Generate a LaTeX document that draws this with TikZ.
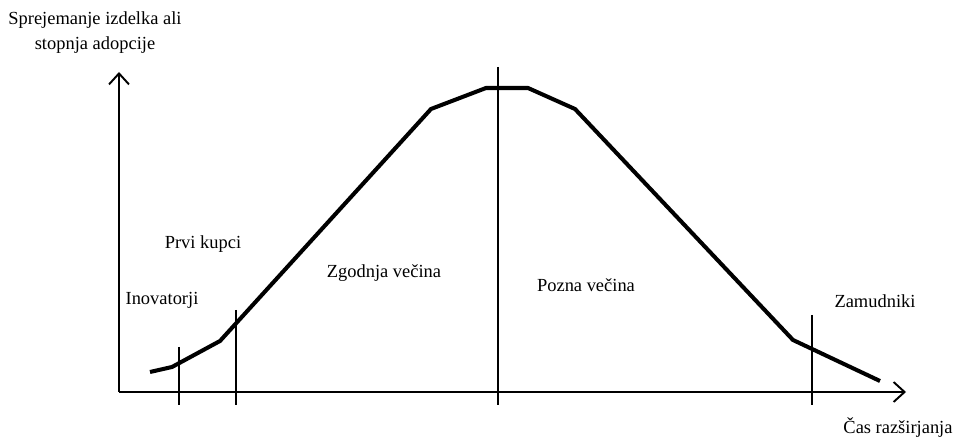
\documentclass[tikz,border=0pt]{standalone}
\usepackage{fontspec}
\setmainfont{Liberation Serif}
\usetikzlibrary{arrows.meta}

\begin{document}
\begin{tikzpicture}[font=\fontsize{10.5}{14.2}\selectfont,
  axis/.style={line width=1.1pt, -{Straight Barb[length=2.2mm,width=4mm]}},
  curve/.style={line width=2.3pt, line join=miter},
  divider/.style={line width=0.8pt}]
  \useasboundingbox (-2.38,-1.0) rectangle (16.78,7.84);

  \coordinate (O) at (0,0);
  \coordinate (Y) at (0,6.4);
  \coordinate (X) at (15.74,0);

  \draw[axis] (O) -- (Y);
  \draw[axis] (O) -- (X);

  % krivulja sprejemanja
  \coordinate (P1) at (0.62,0.40);
  \coordinate (P2) at (1.06,0.50);
  \coordinate (P3) at (2.02,1.02);
  \coordinate (P4) at (6.24,5.66);
  \coordinate (P5) at (7.34,6.08);
  \coordinate (P6) at (8.18,6.08);
  \coordinate (P7) at (9.12,5.66);
  \coordinate (P8) at (13.48,1.04);
  \coordinate (P9) at (15.22,0.22);
  \draw[curve] (P1) -- (P2) -- (P3) -- (P4) -- (P5) -- (P6) -- (P7) -- (P8) -- (P9);

  % meje skupin
  \draw[divider] (1.2,0.9) -- (1.2,-0.26);
  \draw[divider] (2.34,1.64) -- (2.34,-0.26);
  \draw[divider] (7.58,6.5) -- (7.58,-0.26);
  \draw[divider] (13.86,1.54) -- (13.86,-0.26);

  \node[align=center] (ylab) at (-0.48,7.19) {Sprejemanje izdelka ali\\stopnja adopcije};
  \node (xlab) at (15.58,-0.72) {Čas razširjanja};

  \node (inov) at (0.86,1.84) {Inovatorji};
  \node (prvi) at (1.68,2.96) {Prvi kupci};
  \node (zgod) at (5.3,2.38) {Zgodnja večina};
  \node (pozn) at (9.34,2.14) {Pozna večina};
  \node (zamu) at (15.12,1.82) {Zamudniki};
\end{tikzpicture}
\end{document}
